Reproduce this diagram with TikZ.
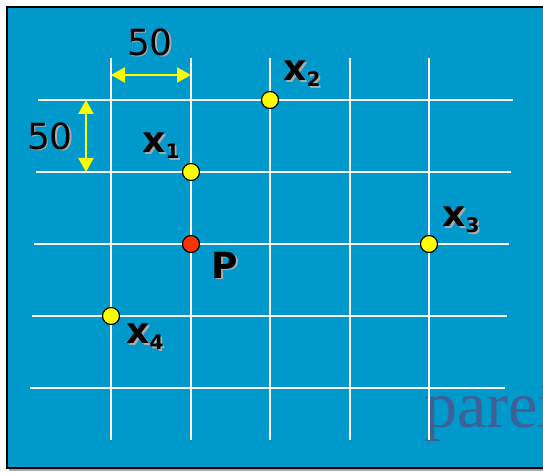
\documentclass[tikz,border=0pt]{standalone}
\usepackage{fontspec}
\newfontfamily\dvs{DejaVu Sans}
\newfontfamily\dvsb{DejaVu Sans Bold}
\setmainfont{Liberation Serif}
\usetikzlibrary{arrows.meta}
\definecolor{bgblue}{RGB}{0,153,204}
\definecolor{ptyellow}{RGB}{255,255,0}
\definecolor{ptred}{RGB}{255,51,0}
\definecolor{wmark}{RGB}{62,96,150}
\definecolor{shadowgrey}{RGB}{170,170,170}
\tikzset{
  gridline/.style={white, line width=2pt},
  dot/.style={circle, draw=black, line width=1.2pt, minimum size=17pt, inner sep=0pt},
  dimarrow/.style={ptyellow, line width=2pt, {Triangle[length=14pt,width=15pt]}-{Triangle[length=14pt,width=15pt]}},
  lbl/.style={inner sep=0pt, font=\dvsb\fontsize{36}{36}\selectfont},
  numlbl/.style={inner sep=0pt, font=\dvs\fontsize{36}{36}\selectfont},
}
\newcommand{\shadowed}[4]{% name, style, position, text
  \node[#2, text=shadowgrey] (#1s) at ([shift={(1.8,1.8)}]#3) {#4};
  \node[#2, text=black] (#1) at (#3) {#4};
}
\begin{document}
\begin{tikzpicture}[x=1pt,y=-1pt]
\useasboundingbox (0,0) rectangle (543,473);
\begin{scope}
\clip (0,0) rectangle (543,473);
% shadow and background
\fill[black!35] (9,10) rectangle (550,471);
\fill[bgblue] (7,7) rectangle (550,468);
\draw[black, line width=2pt] (550,7) -- (7,7) -- (7,468) -- (550,468);
% watermark
\node[anchor=base west, inner sep=0pt, text=wmark, font=\fontsize{66}{66}\selectfont] (wm) at (424,427) {parei};
% grid
\foreach \x in {111,191,270,350,429} \draw[gridline] (\x,58) -- (\x,440);
\draw[gridline] (38,100) -- (513,100);
\draw[gridline] (36,172) -- (511,172);
\draw[gridline] (34,244) -- (509,244);
\draw[gridline] (32,316) -- (507,316);
\draw[gridline] (30,388) -- (505,388);
\end{scope}
% dimension arrows
\coordinate (ha) at (111,75);
\coordinate (hb) at (191,75);
\coordinate (va) at (86,100);
\coordinate (vb) at (86,172);
\draw[dimarrow] (ha) -- (hb);
\draw[dimarrow] (va) -- (vb);
\shadowed{dimh}{numlbl}{150,42}{50}
\shadowed{dimv}{numlbl}{50,136}{50}
% points
\node[dot, fill=ptyellow] (x1) at (191,172) {};
\node[dot, fill=ptyellow] (x2) at (270,100) {};
\node[dot, fill=ptyellow] (x3) at (429,244) {};
\node[dot, fill=ptred] (P) at (191,244) {};
\node[dot, fill=ptyellow] (x4) at (111,316) {};
% labels
\shadowed{lx1}{lbl}{161,146}{x\raisebox{-6pt}{\fontsize{20}{20}\selectfont 1}}
\shadowed{lx2}{lbl}{302,74}{x\raisebox{-6pt}{\fontsize{20}{20}\selectfont 2}}
\shadowed{lx3}{lbl}{461,220}{x\raisebox{-6pt}{\fontsize{20}{20}\selectfont 3}}
\shadowed{lP}{lbl}{225,265}{P}
\shadowed{lx4}{lbl}{145,337}{x\raisebox{-6pt}{\fontsize{20}{20}\selectfont 4}}
\end{tikzpicture}
\end{document}
